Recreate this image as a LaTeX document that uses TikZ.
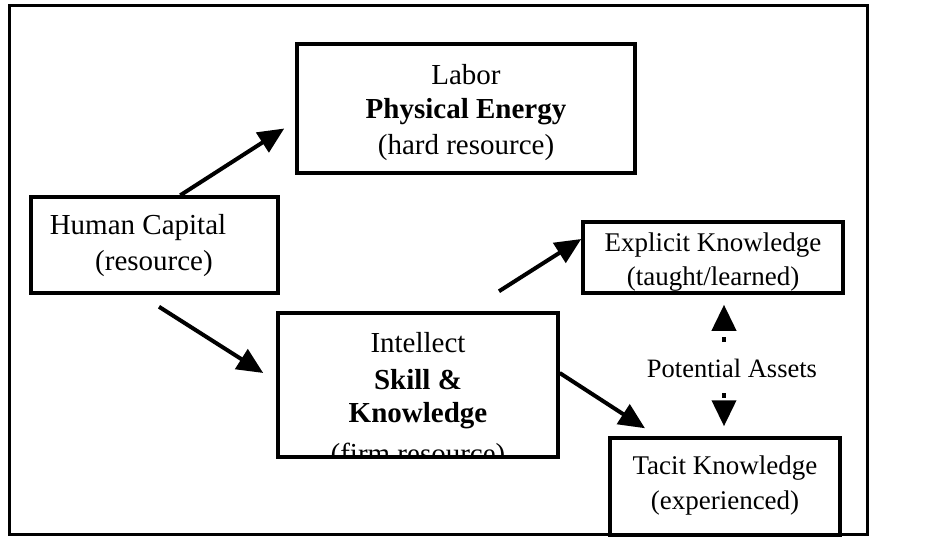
\documentclass[tikz,border=0pt]{standalone}
\usepackage{fontspec}
\setmainfont{Liberation Serif}
\usetikzlibrary{arrows.meta,calc}
\begin{document}
\begin{tikzpicture}[x=1pt,y=-1pt,
  box/.style={draw, line width=3.5pt, inner sep=0pt},
  txt/.style={inner sep=0pt, font=\fontsize{29}{36}\selectfont},
  txts/.style={inner sep=0pt, font=\fontsize{27}{34}\selectfont},
  lbl/.style={inner sep=0pt, font=\fontsize{26.5}{30}\selectfont},
  conn/.style={line width=4pt, -{Triangle[length=26pt,width=23pt]}},
  dasharrow/.style={line width=4pt, dash pattern=on 5pt off 60pt,
    -{Triangle[length=26pt,width=24pt]}}
]
\useasboundingbox (0,0) rectangle (938,560);
\fill[white] (0,0) rectangle (938,560);
\draw[line width=3pt] (9.5,5.5) rectangle (867.5,534.5);

% Labor
\node[box, minimum width=338pt, minimum height=129pt] (labor) at (466,108.5) {};
\node[txt] (lt1) at (466,75) {Labor};
\node[txt] (lt2) at (466,112) {\textbf{Physical Energy}};
\node[txt] (lt3) at (466,148) {(hard resource)};

% Human Capital
\node[box, minimum width=247pt, minimum height=96pt] (hc) at (154.5,245) {};
\node[txt] (hct1) at (138,228) {Human Capital};
\node[txt] (hct2) at (154,264) {(resource)};

% Intellect (last line clipped by the box)
\begin{scope}
  \clip (280,315) rectangle (556,455.5);
  \node[txt] (it1) at (418,343) {Intellect};
  \node[txt] (it2) at (418,380) {\textbf{Skill \&}};
  \node[txt] (it3) at (418,416) {\textbf{Knowledge}};
  \node[txt] (it4) at (418,456) {(firm resource)};
\end{scope}
\node[box, minimum width=280pt, minimum height=144pt] (intellect) at (418,385) {};

% Explicit
\node[box, minimum width=260pt, minimum height=71pt] (explicit) at (713,257.5) {};
\node[txts] (et1) at (713,245) {Explicit Knowledge};
\node[txts] (et2) at (713,279) {(taught/learned)};

% Tacit
\node[box, minimum width=230pt, minimum height=97pt] (tacit) at (725,486.5) {};
\node[txts] (tt1) at (725,468) {Tacit Knowledge};
\node[txts] (tt2) at (725,503) {(experienced)};

\node[lbl] (pa) at (732,368) {Potential Assets};

% connectors
\draw[conn] ($(hc.north west)!0.603!(hc.north east)$) -- ($(labor.west)+(-11,20)$);
\draw[conn] ($(hc.south)+(4.5,12)$) -- ($(intellect.west)+(-13,-12)$);
\draw[conn] ($(intellect.north)+(81,-20)$) -- ($(explicit.west)+(0,-18.5)$);
\draw[conn] ($(intellect.east)+(0,-12)$) -- ($(tacit.north)+(-80,-8)$);

\coordinate (pau) at (724,342);
\coordinate (pad) at (724,393);
\draw[dasharrow] (pau) -- ($(explicit.south -| pau)+(0,10)$);
\draw[dasharrow] (pad) -- ($(tacit.north -| pad)+(0,-10)$);
\end{tikzpicture}
\end{document}
